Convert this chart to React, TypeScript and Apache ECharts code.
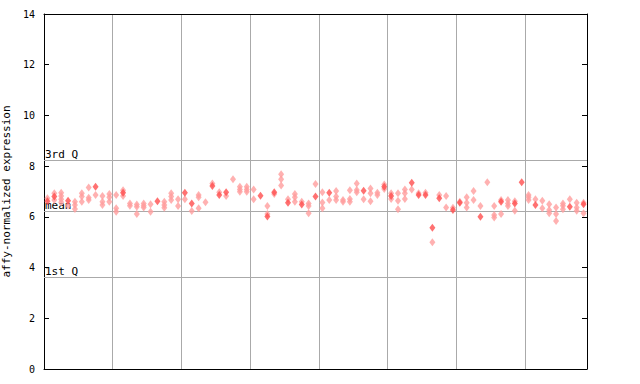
import React, { useEffect, useRef } from "react";
import * as echarts from "echarts";

// y-axis ticks
const yTicks = [0, 2, 4, 6, 8, 10, 12, 14];
// reference lines
const refLines = [
  { name: "3rd Q", value: 8.24 },
  { name: "mean", value: 6.23 },
  { name: "1st Q", value: 3.63 },
];
const sampleCount = 79;

// values per sample column (lighter, dithered diamonds)
const hollowValues: number[][] = [
  [6.73], [6.93, 6.66], [6.95, 6.82, 6.69, 6.58], [6.45], [6.6, 6.47, 6.31],
  [6.93, 6.8, 6.6], [7.16, 6.75, 6.66], [6.86], [6.82, 6.6, 6.47], [6.9, 6.77, 6.6],
  [6.86, 6.34, 6.2], [7.05, 6.82], [6.53, 6.44], [6.49, 6.4, 6.11], [6.53, 6.44, 6.37],
  [6.5, 6.2], [], [6.6, 6.47, 6.36], [6.93, 6.8, 6.66], [6.69, 6.43],
  [6.69], [6.23], [6.86, 6.77, 6.34], [6.58], [7.32],
  [6.97], [6.82], [7.48], [7.19, 7.08, 6.99], [7.19, 7.08, 6.99],
  [7.08, 6.69], [], [6.43, 6.11], [6.9], [7.68, 7.48, 7.24],
  [6.69], [6.9, 6.77, 6.6], [6.6], [6.53, 6.43, 6.14], [7.3],
  [6.97, 6.57, 6.34], [6.66], [7.02, 6.8, 6.66], [6.66, 6.6], [7.05, 6.7, 6.6],
  [7.32, 7.06, 6.97], [6.69], [7.12, 6.93, 6.62], [6.95, 6.86], [7.28, 7.1],
  [6.93, 6.7], [6.93, 6.64, 6.3], [7.08, 6.93, 6.7], [7.08], [6.93],
  [6.95], [5.0], [6.86], [6.82, 6.37], [6.36],
  [6.6], [6.77, 6.56, 6.37], [7.02, 6.66], [6.43], [7.36],
  [6.43, 6.07, 5.97], [6.66, 6.11], [6.66, 6.53, 6.43], [6.62, 6.24], [],
  [6.86, 6.77, 6.66], [6.69], [6.64, 6.34], [6.5, 6.27, 6.14], [6.37, 6.11, 5.84],
  [6.53, 6.44, 6.3], [6.69], [6.56, 6.37, 6.24], [6.56, 6.14],
];

// values per sample column (solid diamonds)
const solidValues: number[][] = [
  [6.62], [6.8], [], [6.64], [],
  [], [], [7.19], [], [],
  [], [6.95], [], [], [],
  [], [6.62], [], [], [],
  [6.95], [6.53], [], [], [7.22],
  [6.86], [6.97], [], [], [],
  [], [6.83], [6.01], [6.97], [],
  [6.56], [], [6.49], [], [6.8],
  [], [6.95], [], [], [],
  [], [7.03], [], [], [7.19],
  [6.82], [], [], [7.35], [6.86],
  [6.86], [5.57], [6.73], [], [6.27],
  [6.56], [], [], [6.0], [],
  [], [6.6], [], [6.53], [7.36],
  [], [6.47], [], [], [],
  [], [6.4], [], [6.5],
];

const RED = "#ff4d4d";
const LIGHT_RED = "#ff9e9e";

function toPoints(cols: number[][]) {
  const pts: number[][] = [];
  cols.forEach((vals, i) => vals.forEach((v) => pts.push([i + 0.5, v])));
  return pts;
}

export default function App() {
  const ref = useRef<HTMLDivElement>(null);
  useEffect(() => {
    if (!ref.current) return;
    const chart = echarts.init(ref.current, undefined, { renderer: "svg" });
    const font = "DejaVu Sans Mono";
    chart.setOption({
      animation: false,
      backgroundColor: "#ffffff",
      grid: { left: 44, right: 53, top: 14, bottom: 15, containLabel: false, outerBoundsMode: "none" },
      xAxis: [
        {
          type: "value",
          min: 0,
          max: sampleCount,
          interval: 10,
          position: "bottom",
          axisLine: { show: true, onZero: false, lineStyle: { color: "#000", width: 1 } },
          axisTick: { show: false },
          axisLabel: { show: false },
          splitLine: { show: true, lineStyle: { color: "#aaaaaa", width: 1 } },
        },
        {
          type: "value",
          min: 0,
          max: sampleCount,
          position: "top",
          axisLine: { show: true, onZero: false, lineStyle: { color: "#000", width: 1 } },
          axisTick: { show: false },
          axisLabel: { show: false },
          splitLine: { show: false },
        },
      ],
      yAxis: [
        {
          type: "value",
          min: 0,
          max: 14,
          interval: 2,
          position: "left",
          name: "affy-normalized expression",
          nameLocation: "middle",
          nameRotate: 90,
          nameGap: 27,
          nameTextStyle: { fontFamily: font, fontSize: 11, color: "#000" },
          axisLine: { show: true, onZero: false, lineStyle: { color: "#000", width: 1 } },
          axisTick: { show: true, inside: true, length: 5, lineStyle: { color: "#000" } },
          axisLabel: {
            fontFamily: font,
            fontSize: 10,
            color: "#000",
            margin: 9,
            customValues: yTicks,
          },
          splitLine: { show: false },
        },
        {
          type: "value",
          min: 0,
          max: 14,
          interval: 2,
          position: "right",
          axisLine: { show: true, onZero: false, lineStyle: { color: "#000", width: 1 } },
          axisTick: { show: true, inside: true, length: 5, lineStyle: { color: "#000" } },
          axisLabel: { show: false },
          splitLine: { show: false },
        },
      ],
      series: [
        {
          type: "scatter",
          xAxisIndex: 0,
          yAxisIndex: 0,
          symbol: "diamond",
          symbolSize: [6, 8],
          data: toPoints(hollowValues),
          itemStyle: { color: LIGHT_RED },
          z: 3,
          markLine: {
            silent: true,
            symbol: "none",
            lineStyle: { color: "#aaaaaa", type: "solid", width: 1 },
            label: {
              show: true,
              position: "insideStartTop",
              distance: [1, 0],
              fontFamily: font,
              fontSize: 11,
              color: "#000",
              formatter: (p: any) => p.name,
            },
            data: refLines.map((r) => ({ name: r.name, yAxis: r.value })),
            z: 2,
          },
        },
        {
          type: "scatter",
          xAxisIndex: 0,
          yAxisIndex: 0,
          symbol: "diamond",
          symbolSize: [6, 8],
          data: toPoints(solidValues),
          itemStyle: { color: RED },
          z: 4,
        },
      ],
    });
    return () => chart.dispose();
  }, []);
  return <div ref={ref} style={{ width: 640, height: 384, position: "absolute", left: 0, top: 0 }} />;
}
